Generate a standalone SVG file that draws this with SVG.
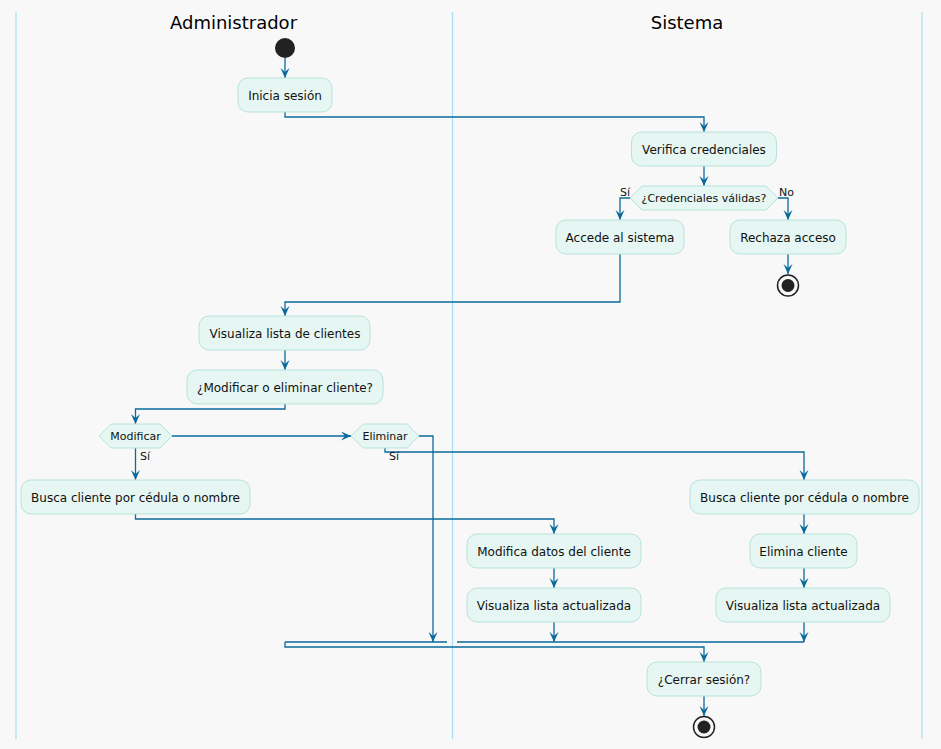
<svg xmlns="http://www.w3.org/2000/svg" width="941" height="749" viewBox="0 0 941 749">
<style>
.bg{fill:#F8F8F8}
.lane{stroke:#A9DCF4;stroke-width:1.2;fill:none}
.hdr{font-family:"DejaVu Sans",sans-serif;font-size:18px;fill:#000;text-anchor:middle}
.box{fill:#E6F6F2;stroke:#B7E3DA;stroke-width:1}
.t{font-family:"DejaVu Sans",sans-serif;font-size:12px;fill:#111;text-anchor:middle}
.dt{font-family:"DejaVu Sans",sans-serif;font-size:11px;fill:#111;text-anchor:middle}
.lbl{font-family:"DejaVu Sans",sans-serif;font-size:11px;fill:#111}
.c{fill:none;stroke:#0A6A9C;stroke-width:1.3}
.ca{fill:none;stroke:#0A6A9C;stroke-width:1.3;marker-end:url(#ah)}
</style>
<defs>
<marker id="ah" markerWidth="10" markerHeight="10" refX="10" refY="4.5" orient="auto" markerUnits="userSpaceOnUse">
<path d="M0,0 L10,4.5 L0,9 L4,4.5 Z" fill="#0A6A9C"/>
</marker>
</defs>
<rect class="bg" x="0" y="0" width="941" height="749"/>
<g id="lanes">
<line class="lane" x1="16" y1="12" x2="16" y2="739"/>
<line class="lane" x1="452.5" y1="12" x2="452.5" y2="739"/>
<line class="lane" x1="922" y1="12" x2="922" y2="739"/>
<text class="hdr" x="233.5" y="29">Administrador</text>
<text class="hdr" x="687" y="29">Sistema</text>
</g>
<g id="connectors">
<path class="ca" d="M285,58 V78"/>
<path class="ca" d="M285,112 V117 H704 V132"/>
<path class="ca" d="M704,166 V186"/>
<path class="ca" d="M630,198 H620 V220"/>
<path class="ca" d="M778,198 H788 V220"/>
<path class="ca" d="M788,254 V274"/>
<path class="ca" d="M620,254 V302 H285 V316"/>
<path class="ca" d="M285,350 V370"/>
<path class="ca" d="M285,404 V409 H135.5 V424"/>
<path class="ca" d="M172,436 H351"/>
<path class="ca" d="M135.5,448 V480"/>
<path class="ca" d="M385,448 V452 H804 V480"/>
<path class="ca" d="M419,436 H433 V642"/>
<path class="ca" d="M135.5,514 V519 H554 V534"/>
<path class="ca" d="M554,568 V588"/>
<path class="ca" d="M554,622 V642"/>
<path class="ca" d="M804,514 V534"/>
<path class="ca" d="M804,568 V588"/>
<path class="ca" d="M804,622 V642"/>
<path class="c" d="M285,642 H447"/>
<path class="c" d="M457,642 H804"/>
<path class="ca" d="M285,642 V647 H704 V662"/>
<path class="ca" d="M704,696 V716"/>
<text class="lbl" x="620" y="196">Sí</text>
<text class="lbl" x="779" y="196">No</text>
<text class="lbl" x="140" y="460">Sí</text>
<text class="lbl" x="389" y="460">Sí</text>
</g>
<g id="start"><circle cx="285" cy="48" r="10" fill="#222"/></g>
<g id="inicia"><rect class="box" x="238" y="78" width="94" height="34" rx="10"/><text class="t" x="285" y="99.5">Inicia sesión</text></g>
<g id="verifica"><rect class="box" x="631.5" y="132" width="145" height="34" rx="10"/><text class="t" x="704" y="153.5">Verifica credenciales</text></g>
<g id="dec_cred"><polygon class="box" points="630,198 642,186 766,186 778,198 766,210 642,210"/><text class="dt" x="704" y="202">¿Credenciales válidas?</text></g>
<g id="accede"><rect class="box" x="556" y="220" width="128" height="34" rx="10"/><text class="t" x="620" y="241.5">Accede al sistema</text></g>
<g id="rechaza"><rect class="box" x="730" y="220" width="116" height="34" rx="10"/><text class="t" x="788" y="241.5">Rechaza acceso</text></g>
<g id="end1"><circle cx="788" cy="285.5" r="10.5" fill="#F8F8F8" stroke="#222" stroke-width="1.5"/><circle cx="788" cy="285.5" r="6.5" fill="#222"/></g>
<g id="visualiza"><rect class="box" x="199" y="316" width="171" height="34" rx="10"/><text class="t" x="285" y="337.5">Visualiza lista de clientes</text></g>
<g id="modelim"><rect class="box" x="187" y="370" width="196" height="34" rx="10"/><text class="t" x="285" y="391.5">¿Modificar o eliminar cliente?</text></g>
<g id="dec_mod"><polygon class="box" points="99,436 111,424 160,424 172,436 160,448 111,448"/><text class="dt" x="135.5" y="440">Modificar</text></g>
<g id="dec_elim"><polygon class="box" points="351,436 363,424 407,424 419,436 407,448 363,448"/><text class="dt" x="385" y="440">Eliminar</text></g>
<g id="busca1"><rect class="box" x="21" y="480" width="229" height="34" rx="10"/><text class="t" x="135.5" y="501.5">Busca cliente por cédula o nombre</text></g>
<g id="busca2"><rect class="box" x="690" y="480" width="229" height="34" rx="10"/><text class="t" x="804.5" y="501.5">Busca cliente por cédula o nombre</text></g>
<g id="modifica"><rect class="box" x="467" y="534" width="174" height="34" rx="10"/><text class="t" x="554" y="555.5">Modifica datos del cliente</text></g>
<g id="elimina"><rect class="box" x="750" y="534" width="107" height="34" rx="10"/><text class="t" x="803.5" y="555.5">Elimina cliente</text></g>
<g id="vis_act1"><rect class="box" x="467" y="588" width="174" height="34" rx="10"/><text class="t" x="554" y="609.5">Visualiza lista actualizada</text></g>
<g id="vis_act2"><rect class="box" x="716" y="588" width="174" height="34" rx="10"/><text class="t" x="803" y="609.5">Visualiza lista actualizada</text></g>
<g id="cerrar"><rect class="box" x="647" y="662" width="114" height="34" rx="10"/><text class="t" x="704" y="683.5">¿Cerrar sesión?</text></g>
<g id="end2"><circle cx="704" cy="727" r="10.5" fill="#F8F8F8" stroke="#222" stroke-width="1.5"/><circle cx="704" cy="727" r="6.5" fill="#222"/></g>
</svg>
